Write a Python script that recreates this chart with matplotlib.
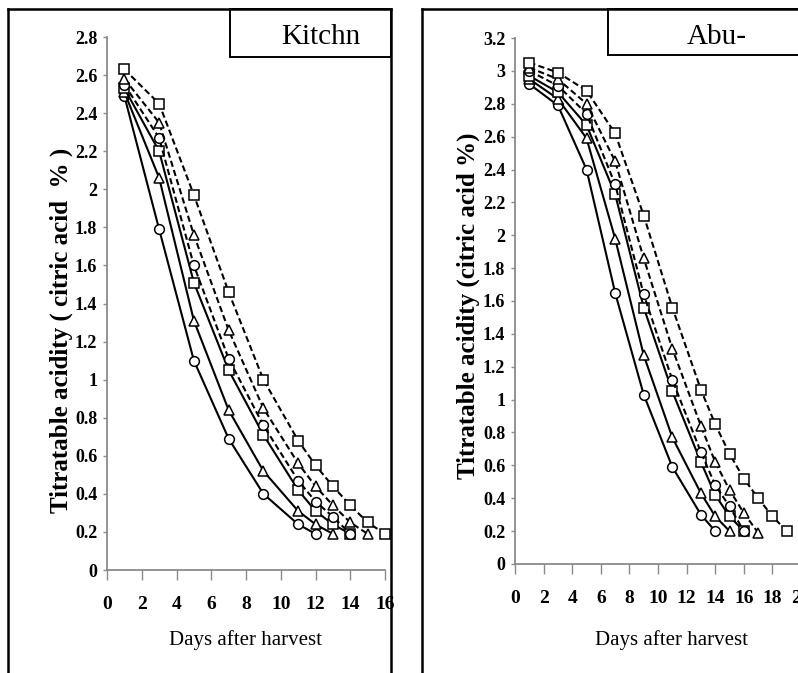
import matplotlib
matplotlib.use("Agg")
import matplotlib.pyplot as plt
from matplotlib.patches import Rectangle
from matplotlib.lines import Line2D

# Kitchn panel: days and six treatments
k_days = [1, 3, 5, 7, 9, 11, 12, 13, 14, 15, 16]
k_solid_circle = [2.49, 1.79, 1.10, 0.69, 0.40, 0.24, 0.19]
k_solid_tri = [2.51, 2.06, 1.31, 0.84, 0.52, 0.31, 0.24, 0.19]
k_solid_sq = [2.53, 2.20, 1.51, 1.05, 0.71, 0.42, 0.31, 0.24, 0.19]
k_dash_circle = [2.55, 2.27, 1.60, 1.11, 0.76, 0.47, 0.36, 0.28, 0.19]
k_dash_tri = [2.58, 2.35, 1.76, 1.26, 0.85, 0.56, 0.44, 0.34, 0.25, 0.19]
k_dash_sq = [2.63, 2.45, 1.97, 1.46, 1.00, 0.68, 0.55, 0.44, 0.34, 0.25, 0.19]

# Abu- panel
a_days = [1, 3, 5, 7, 9, 11, 13, 14, 15, 16, 17, 18, 19]
a_solid_circle = [2.92, 2.79, 2.40, 1.65, 1.03, 0.59, 0.30, 0.20]
a_solid_tri = [2.95, 2.83, 2.59, 1.98, 1.27, 0.77, 0.43, 0.29, 0.20]
a_solid_sq = [2.97, 2.87, 2.67, 2.25, 1.56, 1.05, 0.62, 0.42, 0.29, 0.20]
a_dash_circle = [3.00, 2.91, 2.74, 2.31, 1.64, 1.12, 0.68, 0.48, 0.35, 0.20]
a_dash_tri = [3.02, 2.95, 2.80, 2.45, 1.86, 1.31, 0.84, 0.62, 0.45, 0.31, 0.19]
a_dash_sq = [3.05, 2.99, 2.88, 2.62, 2.12, 1.56, 1.06, 0.85, 0.67, 0.52, 0.40, 0.29, 0.20]

plt.rcParams["font.family"] = ["Liberation Serif", "DejaVu Serif"]


def draw_series(ax, days, series):
    styles = [("o", "-"), ("^", "-"), ("s", "-"), ("o", "--"), ("^", "--"), ("s", "--")]
    for vals, (mk, ls) in zip(series, styles):
        ax.plot(days[:len(vals)], vals, color="black", linestyle=ls, linewidth=1.5,
                dashes=(3, 1.6) if ls == "--" else (None, None),
                marker=mk, markersize=7, markerfacecolor="white",
                markeredgecolor="black", markeredgewidth=1.1, clip_on=False)


def style_axes(ax, xmax, ymax, ylabel, ylab_pos, xlab_pos):
    ax.set_xlim(0, xmax)
    ax.set_ylim(0, ymax)
    ax.set_xticks(range(0, xmax + 1, 2))
    yt = [round(i * 0.2, 1) for i in range(int(round(ymax / 0.2)) + 1)]
    ax.set_yticks(yt)
    ax.set_yticklabels(["{:g}".format(v) for v in yt])
    for s in ["top", "right"]:
        ax.spines[s].set_visible(False)
    for s in ["left", "bottom"]:
        ax.spines[s].set_color("#8a8a8a")
        ax.spines[s].set_linewidth(1.3)
    ax.tick_params(axis="x", direction="out", length=7, width=1, color="#8a8a8a", pad=12)
    ax.tick_params(axis="y", direction="out", length=3, width=1, color="#8a8a8a", pad=4)
    for lab in ax.get_xticklabels():
        lab.set_fontsize(14)
        lab.set_fontweight("bold")
    for lab in ax.get_yticklabels():
        lab.set_fontsize(13)
        lab.set_fontweight("bold")
    ax.set_ylabel(ylabel, fontsize=18, fontweight="bold")
    ax.yaxis.set_label_coords(*ylab_pos)
    ax.yaxis.label.set_va("center")
    ax.set_xlabel("Days after harvest", fontsize=15)
    ax.xaxis.set_label_coords(*xlab_pos)
    ax.xaxis.label.set_va("center")
    ax.patch.set_alpha(0)


fig = plt.figure(figsize=(7.98, 6.73), dpi=100)

ax1 = fig.add_axes([0.1341, 0.1530, 0.3484, 0.7920])
draw_series(ax1, k_days, [k_solid_circle, k_solid_tri, k_solid_sq,
                          k_dash_circle, k_dash_tri, k_dash_sq])
style_axes(ax1, 16, 2.8, "Titratable acidity ( citric acid  % )",
           (-0.165, 0.45), (0.498, -0.131))

ax2 = fig.add_axes([0.6454, 0.1620, 0.3584, 0.7815])
draw_series(ax2, a_days, [a_solid_circle, a_solid_tri, a_solid_sq,
                          a_dash_circle, a_dash_tri, a_dash_sq])
style_axes(ax2, 20, 3.2, "Titratable acidity (citric acid %)",
           (-0.162, 0.491), (0.547, -0.1445))

# panel frames
for xs, ys in [([0.010, 0.010], [0.0, 0.9866]), ([0.010, 0.490], [0.9866, 0.9866]),
               ([0.490, 0.490], [0.0, 0.9866]), ([0.5288, 0.5288], [0.0, 0.9866]),
               ([0.5288, 1.0], [0.9866, 0.9866])]:
    fig.add_artist(Line2D(xs, ys, color="black", linewidth=1.8, zorder=5))

# title boxes
fig.add_artist(Rectangle((0.2882, 0.9153), 0.2018, 0.0713, facecolor="white",
                         edgecolor="black", linewidth=1.4, zorder=4))
fig.text(0.4016, 0.945, "Kitchn", fontsize=21, ha="center", va="center", zorder=6)
fig.add_artist(Rectangle((0.7619, 0.9183), 0.25, 0.0683, facecolor="white",
                         edgecolor="black", linewidth=1.4, zorder=4))
fig.text(0.8985, 0.945, "Abu-", fontsize=21, ha="center", va="center", zorder=6)

fig.savefig("out.png", dpi=100)
